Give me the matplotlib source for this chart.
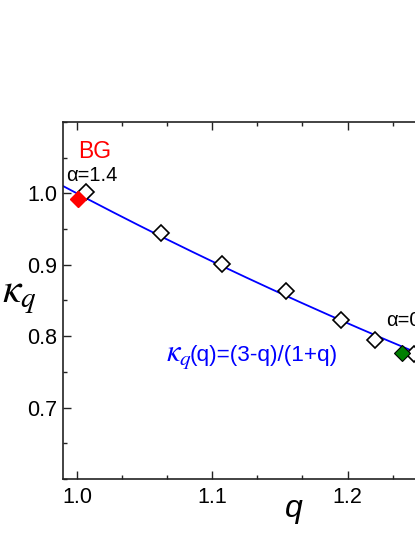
import numpy as np
import matplotlib
matplotlib.use("Agg")
import matplotlib.pyplot as plt
from matplotlib.ticker import MultipleLocator

plt.rcParams['font.family'] = ['Liberation Sans', 'DejaVu Sans']
plt.rcParams['mathtext.fontset'] = 'stix'

# data
q_open = [1.0065, 1.062, 1.107, 1.1545, 1.195, 1.2205, 1.249]
k_open = [1.0015, 0.944, 0.901, 0.863, 0.822, 0.795, 0.775]
q_bg, k_bg = [1.0005], [0.9915]
q_green, k_green = [1.2405], [0.776]
x_ticks = [1.0, 1.1, 1.2]
y_ticks = [0.7, 0.8, 0.9, 1.0]

fig = plt.figure(figsize=(4.15, 5.37), dpi=100)
ax = fig.add_axes([63/415, 58/537, 622.8/415, 357/537])

q_line = np.linspace(0.9897, 1.45, 300)
ax.plot(q_line, (3 - q_line) / (1 + q_line), color='#0000ff', lw=1.3, zorder=2)

ax.plot(q_open, k_open, 'D', mfc='white', mec='black', mew=1.2, ms=8, zorder=3)
ax.plot(q_bg, k_bg, 'D', mfc='red', mec='red', mew=1.0, ms=8, zorder=4)
ax.plot(q_green, k_green, 'D', mfc='#008000', mec='black', mew=0.8, ms=8, zorder=4)

ax.set_xlim(0.9897, 1.45)
ax.set_ylim(0.6, 1.1)
ax.set_xticks(x_ticks)
ax.set_xticklabels([f"{v:.1f}" for v in x_ticks])
ax.set_yticks(y_ticks)
ax.set_yticklabels([f"{v:.1f}" for v in y_ticks])
ax.xaxis.set_minor_locator(MultipleLocator(0.1/3))
ax.yaxis.set_minor_locator(MultipleLocator(0.05))
ax.tick_params(which='both', direction='in', top=True, right=True,
               labelsize=15.5, width=1.0, color='#222222')
ax.tick_params(which='major', length=5.5)
ax.tick_params(which='minor', length=3)
ax.tick_params(axis='x', pad=6)
ax.tick_params(axis='y', pad=4)
for s in ax.spines.values():
    s.set_linewidth(1.2)
    s.set_color('#222222')

ax.text(1.0133, 1.059, 'BG', color='red', fontsize=16.5, ha='center', va='center')
ax.text(0.9922, 1.025, 'α=1.4', color='black', fontsize=14.5, ha='left', va='center')
ax.text(1.2288, 0.822, 'α=0.6', color='black', fontsize=14.5, ha='left', va='center')
ax.text(1.0655, 0.7725, r'$\kappa_q$', color='#0000ff', fontsize=22,
        ha='left', va='center')
ax.text(1.0835, 0.7725, '(q)=(3-q)/(1+q)', color='#0000ff', fontsize=16.2,
        ha='left', va='center')

fig.text(294/415, 1 - 509/537, 'q', fontsize=23, style='italic', ha='center', va='center')
fig.text(19/415, 1 - 296/537, r'$\kappa_q$', fontsize=30, ha='center', va='center')

fig.savefig('out.png', dpi=100)
